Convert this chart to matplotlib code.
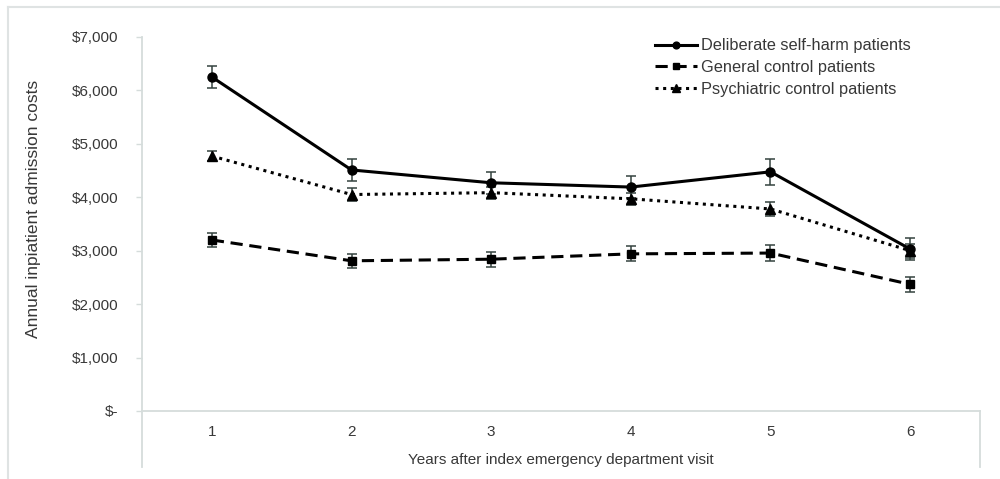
import matplotlib.pyplot as plt
from matplotlib.lines import Line2D
from matplotlib.ticker import FuncFormatter

plt.rcParams["font.family"] = ["Liberation Sans", "DejaVu Sans"]

years = [1, 2, 3, 4, 5, 6]
dsh = [6250, 4510, 4270, 4190, 4475, 3030]
dsh_err = [200, 205, 210, 210, 245, 210]
general = [3200, 2810, 2840, 2940, 2955, 2370]
general_err = [135, 130, 140, 140, 145, 140]
psych = [4770, 4050, 4085, 3970, 3780, 3000]
psych_err = [100, 130, 115, 110, 130, 130]

AXIS = "#d5dcdb"
TEXT = "#383838"
ERR = "#34423f"

fig = plt.figure(figsize=(10, 4.79), dpi=100)
ax = fig.add_axes([0.142, 0.142, 0.838, 0.781])

series = [
    ("Deliberate self-harm patients", dsh, dsh_err, "-", "o", 6.5),
    ("General control patients", general, general_err, (0, (4, 2.2)), "s", 5.5),
    ("Psychiatric control patients", psych, psych_err, (0, (1, 1.5)), "^", 7),
]
handles = []
for label, vals, err, ls, mk, ms in series:
    ax.errorbar(years, vals, yerr=err, fmt="none", ecolor=ERR, elinewidth=1.1,
                capsize=3.5, capthick=1.1, zorder=3)
    h, = ax.plot(years, vals, color="black", linestyle=ls, linewidth=2.2,
                 marker=mk, markersize=ms, zorder=4, label=label)
    handles.append(h)

ax.set_xlim(0.5, 6.5)
ax.set_ylim(0, 7000)
ax.set_xticks(years)
ax.set_yticks(range(0, 7001, 1000))
ax.yaxis.set_major_formatter(FuncFormatter(lambda v, p: "$-" if v == 0 else f"${v:,.0f}"))

for s in ax.spines.values():
    s.set_visible(False)
ax.tick_params(axis="x", length=0, pad=10, labelsize=11, labelcolor=TEXT)
ax.tick_params(axis="y", length=4, color=AXIS, width=1, pad=13, labelsize=11, labelcolor=TEXT)

ax.set_xlabel("Years after index emergency department visit", fontsize=11, color=TEXT, labelpad=10)
ax.set_ylabel("Annual inpiatient admission costs", fontsize=12.5, color=TEXT)
ax.yaxis.set_label_coords(-0.1205, 0.54)

# Excel-style axis frame lines (figure pixel coordinates)
W, H = 1000, 479
def fline(x0, y0, x1, y1, color=AXIS, lw=1.3):
    fig.add_artist(Line2D([x0 / W, x1 / W], [1 - y0 / H, 1 - y1 / H],
                          transform=fig.transFigure, color=color, linewidth=lw))

fline(142, 37, 142, 467)
fline(142, 411, 980, 411)
fline(980, 411, 980, 467)
# outer border of the figure
fline(8, 7, 1000, 7, color="#dfe3e3", lw=1.5)
fline(8, 7, 8, 479, color="#dfe3e3", lw=1.5)

leg = ax.legend(handles=handles, loc="upper left", bbox_to_anchor=(0.6, 1.022),
                frameon=False, fontsize=11.8, handlelength=2.6, handletextpad=0.2,
                labelspacing=0.4, borderaxespad=0.2, markerscale=0.75)
for t in leg.get_texts():
    t.set_color(TEXT)

fig.savefig("out.png", dpi=100, facecolor="white")
